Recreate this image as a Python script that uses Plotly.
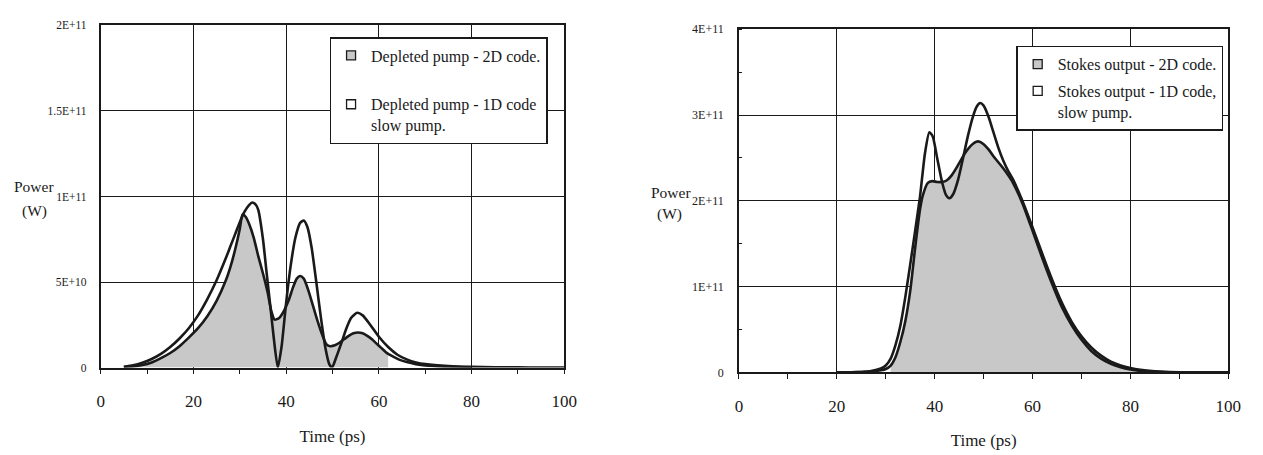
import numpy as np
import plotly.graph_objects as go

GW = 1e9  # values below are in units of 1E+9 W

# ---------------- Left panel: depleted pump ----------------
pump_time_2d = [5, 7, 9, 11, 13, 15, 17, 19, 21, 23, 25, 27, 28, 29, 30, 30.6, 31.3, 32, 33, 34, 35, 36,
                36.8, 37.5, 38.5, 39.5, 40.5, 41.5, 42.3, 43, 43.8, 44.8, 45.8, 46.8, 47.8, 48.7, 49.5,
                50.5, 51.5, 52.5, 53.5, 54.5, 55.5, 56.5, 57.5, 58.5, 59.5, 60.5, 61.5, 62, 63, 64.5,
                66, 68, 70, 75, 80]
pump_power_2d = [0.3, 0.7, 1.5, 3, 5.5, 8.5, 12.5, 17.5, 23, 30, 39, 51, 59, 69, 81, 89.5, 88, 84, 76, 65, 55, 44,
                 33, 28, 29, 33, 39, 47, 52, 53.5, 52, 45, 36, 27, 19, 13.5, 12.5,
                 13, 14.5, 16.5, 18.5, 20, 20.5, 20, 18.5, 16.5, 14, 11.5, 9, 8, 6.5, 4.5,
                 3.2, 2, 1.2, 0.4, 0.15]

pump_time_1d = [5, 7, 9, 11, 13, 15, 17, 19, 21, 23, 25, 27, 28, 29, 30, 31, 32, 32.7, 33.5, 34, 35, 35.8,
                36.5, 37.3, 38.2, 39, 40, 41, 42, 43, 43.8, 44.6, 45.5, 46.5, 47.5, 48.5, 49.3, 49.9,
                50.8, 52, 53, 54, 55.3, 56.5, 58, 60, 62, 64, 66, 68, 70, 75, 80, 85, 90, 95, 100]
pump_power_1d = [0.5, 1.3, 2.8, 5, 8, 12, 17, 23, 30.5, 40, 51, 64, 71, 78, 85, 91, 95, 96.5, 95, 92, 75, 55,
                 38, 18, 0, 12, 38, 60, 76, 84.5, 86, 82, 70, 50, 29, 11, 2, 0,
                 6, 15, 23, 29, 32, 30.5, 25.5, 18, 12, 7.5, 4.8, 3, 2, 0.9, 0.4, 0.2, 0.1, 0.05, 0.02]

pump_fill_range = [5, 62]  # time span of the shaded 2D area

# ---------------- Right panel: Stokes output ----------------
stokes_time_2d = [22, 25, 27, 29, 30, 31, 32, 33, 34, 35, 36, 37, 37.5, 38.6, 39.5, 40.5, 41.5, 42.5, 43.5,
                  44.5, 45.5, 46.5, 47.5, 48.5, 49.2, 50, 51, 52, 54, 55, 56, 58, 60, 62, 64, 66, 68,
                  70, 72, 74, 76, 78, 80, 82, 85, 88, 90]
stokes_power_2d = [0, 0.3, 0.9, 2.5, 4, 8, 18, 36, 60, 95, 145, 190, 205, 221, 223, 222, 222, 224, 230,
                   239, 249, 258, 265, 269, 269, 266, 260, 252, 238, 230, 221, 196, 165, 133, 103, 76, 55,
                   38, 25, 16, 10, 6, 3.3, 1.6, 0.5, 0.1, 0]

stokes_time_1d = [20, 22, 24, 25, 27, 29, 30, 31, 32, 33, 34, 35, 36, 37, 38, 38.9, 39.6, 40.5, 41.5, 42.3,
                  43, 43.8, 44.8, 45.8, 46.8, 47.8, 48.6, 49.3, 50, 51, 52, 53, 54, 55, 56, 58, 60, 62,
                  64, 66, 68, 70, 72, 74, 76, 78, 80, 82, 85, 88, 92, 100]
stokes_power_1d = [0, 0.1, 0.3, 0.5, 1.5, 4.5, 8, 16, 32, 55, 88, 126, 165, 205, 255, 280, 275, 250, 222, 207,
                   203, 208, 225, 250, 276, 298, 310, 314, 311, 298, 280, 262, 247, 235, 225, 199, 169, 138,
                   108, 81, 59, 42, 29, 19.5, 12.5, 8, 5, 3, 1.3, 0.5, 0.1, 0]

stokes_fill_range = [31, 90]

# ---------------- Axis ticks ----------------
x_tick_vals = [0, 20, 40, 60, 80, 100]
left_ytick_vals = [0, 5e10, 1e11, 1.5e11, 2e11]
left_ytick_text = ["0", "5E+10", "1E+11", "1.5E+11", "2E+11"]
right_ytick_vals = [0, 1e11, 2e11, 3e11, 4e11]
right_ytick_text = ["0", "1E+11", "2E+11", "3E+11", "4E+11"]

legend_left = ["Depleted pump - 2D code.", "Depleted pump - 1D code<br>slow pump."]
legend_right = ["Stokes output - 2D code.", "Stokes output - 1D code,<br>slow pump."]

# ---------------- Styles ----------------
W, H = 1263, 455
FONT = "Liberation Serif"
INK = "#1a1a1a"
GREY = "#c8c8c8"
LW = 2.6

fig = go.Figure()


def add_panel(t2, p2, t1, p1, fill_range, xa, ya, leg, names):
    t2 = np.array(t2, dtype=float)
    p2 = np.array(p2, dtype=float) * GW
    t1 = np.array(t1, dtype=float)
    p1 = np.array(p1, dtype=float) * GW
    m = (t2 >= fill_range[0]) & (t2 <= fill_range[1])
    fig.add_trace(go.Scatter(x=t2[m], y=p2[m], mode="lines", fill="tozeroy", fillcolor=GREY,
                             line=dict(width=0, shape="spline", smoothing=0.6),
                             showlegend=False, hoverinfo="skip", xaxis=xa, yaxis=ya))
    fig.add_trace(go.Scatter(x=t2, y=p2, mode="lines", line=dict(color=INK, width=LW, shape="spline", smoothing=0.6),
                             showlegend=False, name=names[0], xaxis=xa, yaxis=ya))
    fig.add_trace(go.Scatter(x=t1, y=p1, mode="lines", line=dict(color=INK, width=LW, shape="spline", smoothing=0.6),
                             showlegend=False, name=names[1], xaxis=xa, yaxis=ya))
    # legend entries (square symbols like the original)
    fig.add_trace(go.Scatter(x=[None], y=[None], mode="markers", name=names[0], legend=leg,
                             legendgroup=leg + "a",
                             marker=dict(symbol="square", size=9, color=GREY, line=dict(color=INK, width=1.3)),
                             xaxis=xa, yaxis=ya))
    fig.add_trace(go.Scatter(x=[None], y=[None], mode="markers", name=names[1], legend=leg,
                             legendgroup=leg + "b",
                             marker=dict(symbol="square", size=9, color="white", line=dict(color=INK, width=1.3)),
                             xaxis=xa, yaxis=ya))


add_panel(pump_time_2d, pump_power_2d, pump_time_1d, pump_power_1d, pump_fill_range, "x", "y", "legend",
          legend_left)
add_panel(stokes_time_2d, stokes_power_2d, stokes_time_1d, stokes_power_1d, stokes_fill_range, "x2", "y2",
          "legend2", legend_right)


def px_x(p):
    return p / W


def px_y(p):
    return 1 - p / H


xcommon = dict(range=[0, 100], tickvals=x_tick_vals, showgrid=True, gridcolor=INK, gridwidth=1.4,
               showline=True, mirror=True, linecolor=INK, linewidth=1.6, zeroline=False,
               ticks="outside", ticklen=5, tickcolor=INK, tickwidth=1.4,
               minor=dict(dtick=10, tick0=0, ticks="outside", ticklen=5, tickcolor=INK, showgrid=False),
               tickfont=dict(family=FONT, size=17, color=INK), ticklabelstandoff=12)

ytitle_font = dict(family=FONT, size=15.5, color=INK)

fig.update_layout(
    width=W, height=H, margin=dict(l=0, r=0, t=0, b=0),
    paper_bgcolor="white", plot_bgcolor="white",
    xaxis=dict(domain=[px_x(98), px_x(568)], anchor="y",
               title=dict(text="Time (ps)", font=dict(family=FONT, size=17, color=INK), standoff=20), **xcommon),
    xaxis2=dict(domain=[px_x(745), px_x(1241)], anchor="y2",
                title=dict(text="Time (ps)", font=dict(family=FONT, size=17, color=INK), standoff=20), **xcommon),
    yaxis=dict(domain=[px_y(372), px_y(19)], anchor="x", range=[0, 2e11], tickvals=left_ytick_vals,
               ticktext=left_ytick_text, showgrid=True, gridcolor=INK, gridwidth=1.4, showline=True, mirror=True,
               linecolor=INK, linewidth=1.6, zeroline=False, ticks="", ticklabelstandoff=10,
               tickfont=dict(family=FONT, size=11.5, color=INK)),
    yaxis2=dict(domain=[px_y(377), px_y(23)], anchor="x2", range=[0, 4e11], tickvals=right_ytick_vals,
                ticktext=right_ytick_text, showgrid=True, gridcolor=INK, gridwidth=1.4, showline=True, mirror=True,
                linecolor=INK, linewidth=1.6, zeroline=False, ticks="", ticklabelstandoff=11,
                minor=dict(dtick=5e10, ticks="inside", ticklen=3, tickcolor=INK, showgrid=False),
                tickfont=dict(family=FONT, size=12, color=INK)),
    legend=dict(x=px_x(330), y=px_y(31), xanchor="left", yanchor="top", bgcolor="white",
                bordercolor=INK, borderwidth=1.5, tracegroupgap=25, valign="top",
                font=dict(family=FONT, size=16, color=INK)),
    legend2=dict(x=px_x(1026), y=px_y(40), xanchor="left", yanchor="top", bgcolor="white",
                 bordercolor=INK, borderwidth=1.5, tracegroupgap=3, valign="top",
                 font=dict(family=FONT, size=16, color=INK)),
    annotations=[
        dict(text="Power", x=px_x(30), y=px_y(185), xref="paper", yref="paper", showarrow=False,
             xanchor="center", yanchor="middle", font=ytitle_font),
        dict(text="(W)", x=px_x(31), y=px_y(210), xref="paper", yref="paper", showarrow=False,
             xanchor="center", yanchor="middle", font=ytitle_font),
        dict(text="Power", x=px_x(676), y=px_y(191), xref="paper", yref="paper", showarrow=False,
             xanchor="center", yanchor="middle", font=ytitle_font),
        dict(text="(W)", x=px_x(675), y=px_y(214), xref="paper", yref="paper", showarrow=False,
             xanchor="center", yanchor="middle", font=ytitle_font),
    ],
)

fig.write_html("out.html")
